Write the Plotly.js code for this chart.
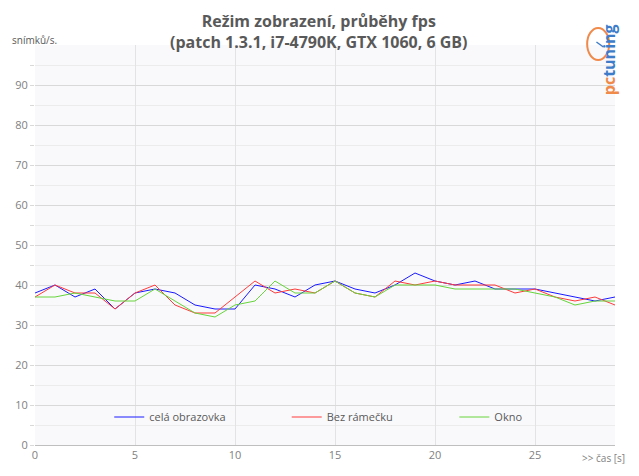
<!DOCTYPE html>
<html><head><meta charset="utf-8">
<script src="https://cdn.plot.ly/plotly-3.0.1.min.js"></script>
<style>body{margin:0;background:#fff}#c{width:639px;height:476px}</style>
</head><body><div id="c"></div>
<script>
const time = [0,1,2,3,4,5,6,7,8,9,10,11,12,13,14,15,16,17,18,19,20,21,22,23,24,25,26,27,28,29];
const celaObrazovka = [38,40,37,39,34,38,39,38,35,34,34,40,39,37,40,41,39,38,40,43,41,40,41,39,39,39,38,37,36,37];
const bezRamecku   = [37,40,38,38,34,38,40,35,33,33,37,41,38,39,38,41,38,37,41,40,41,40,40,40,38,39,37,36,37,35];
const okno         = [37,37,38,37,36,36,39,36,33,32,35,36,41,38,38,41,38,37,40,40,40,39,39,39,39,38,37,35,36,36];
const seriesNames = ['celá obrazovka','Bez rámečku','Okno'];
const seriesColors = ['#1a1aff','#ff3b3b','#66d43a'];
const xTicks = [0,5,10,15,20,25];
const yTicks = [0,10,20,30,40,50,60,70,80,90];

const font = 'Open Sans, Liberation Sans, sans-serif';
const legendKeys = ['legend','legend2','legend3'];
const legendX = [0.128, 0.434, 0.723];
const data = [celaObrazovka, bezRamecku, okno].map((v,i)=>({
  x: time, y: v, type:'scatter', mode:'lines', name: seriesNames[i], legend: legendKeys[i],
  line:{color:seriesColors[i], width:1}
}));
const legendBase = {orientation:'h', y:0.07, yanchor:'middle', xanchor:'left', bgcolor:'rgba(0,0,0,0)',
  font:{family:font, size:11, color:'#595959'}, itemwidth:30, tracegroupgap:0};
const layout = {
  width:639, height:476,
  margin:{l:35, r:24, t:45, b:31},
  paper_bgcolor:'#ffffff', plot_bgcolor:'#f9f9fc',
  font:{family:font, color:'#7f7f7f', size:11},
  showlegend:true,
  legend:Object.assign({}, legendBase, {x:legendX[0]}),
  legend2:Object.assign({}, legendBase, {x:legendX[1]}),
  legend3:Object.assign({}, legendBase, {x:legendX[2]}),
  xaxis:{range:[0,29], tickvals:xTicks, ticktext:xTicks.map(String), showgrid:true, gridcolor:'#e3e3e3',
    zeroline:false, showline:true, linecolor:'#bfbfbf', ticks:'', tickfont:{size:11, color:'#7f7f7f'}},
  yaxis:{range:[0,100], tickvals:yTicks, ticktext:yTicks.map(String), showgrid:true, gridcolor:'#d9d9d9',
    zeroline:false, showline:false, ticks:'outside', ticklen:4, tickcolor:'#d9d9d9',
    tickfont:{size:11, color:'#7f7f7f'},
    minor:{tickvals:[5,15,25,35,45,55,65,75,85,95], showgrid:true, gridcolor:'#ececec', ticks:'outside', ticklen:4, tickcolor:'#d9d9d9'}},
  annotations:[
    {text:'<b>Režim zobrazení, průběhy fps<br>(patch 1.3.1, i7-4790K, GTX 1060, 6 GB)</b>', xref:'paper', yref:'paper', x:0.49, y:1.034, xanchor:'center', yanchor:'middle', showarrow:false, font:{family:font,size:16,color:'#595959'}},
    {text:'snímků/s.', xref:'paper', yref:'paper', x:-0.043, y:1.0125, xanchor:'left', yanchor:'middle', showarrow:false, font:{family:font,size:10,color:'#595959'}},
    {text:'>> čas [s]', xref:'paper', yref:'paper', x:1.02, y:-0.0325, xanchor:'right', yanchor:'middle', showarrow:false, font:{family:font,size:10,color:'#7f7f7f'}},
    {text:'<b><span style="color:#f08a4b">pc</span><span style="color:#3d7cc9">tuning</span></b>', textangle:-90, xref:'paper', yref:'paper', x:0.99, y:0.9625, xanchor:'center', yanchor:'middle', showarrow:false, font:{family:font,size:16}}
  ],
  shapes:[
    {type:'circle', xref:'paper', yref:'paper', x0:0.952, x1:0.99, y0:0.9625, y1:1.0425, line:{color:'#f08a4b', width:2}},
    {type:'line', xref:'paper', yref:'paper', x0:0.968, x1:0.98, y0:1.0075, y1:0.995, line:{color:'#3d7cc9', width:1.5}}
  ]
};
Plotly.newPlot('c', data, layout, {displayModeBar:false, staticPlot:true});
</script></body></html>
